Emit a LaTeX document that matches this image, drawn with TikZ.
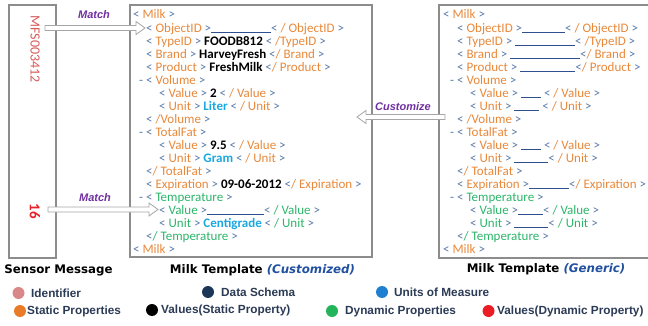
\documentclass[tikz,border=0pt]{standalone}
\usepackage{fontspec}
\setmainfont{Carlito}
\newfontfamily\dvs{DejaVu Sans}
\newfontfamily\lbs{Liberation Sans}
\usetikzlibrary{calc}
\definecolor{brk}{HTML}{5878A8}
\definecolor{tagor}{HTML}{E8883A}
\definecolor{tagg}{HTML}{2DB56A}
\definecolor{unitb}{HTML}{1AA8E0}
\definecolor{schema}{HTML}{2F4F8F}
\definecolor{idc}{HTML}{D65C5C}
\definecolor{redv}{HTML}{E8202A}
\definecolor{purp}{HTML}{7030A0}
\definecolor{cust}{HTML}{2150A0}
\definecolor{legt}{HTML}{2B3A55}
\definecolor{boxg}{HTML}{8C8C8C}
\definecolor{lpink}{HTML}{D98787}
\definecolor{lorange}{HTML}{E87A2A}
\definecolor{lnavy}{HTML}{1C3659}
\definecolor{lblue}{HTML}{2080D0}
\definecolor{lgreen}{HTML}{22B35B}
\definecolor{lred}{HTML}{EC1C24}
\newcommand\Lb{\textcolor{brk}{<}}
\newcommand\Rb{\textcolor{brk}{>}}
\newcommand\TO[1]{\textcolor{tagor}{#1}}
\newcommand\TG[1]{\textcolor{tagg}{#1}}
\newcommand\UB[1]{\textcolor{unitb}{\bfseries #1}}
\newcommand\VB[1]{\textbf{#1}}
\newcommand\BL[1]{\textcolor{schema}{\rule[-0.5pt]{#1pt}{0.9pt}}}
\newcommand\DS{\textcolor{brk}{-}}
\newcommand\harrowR[2]{\draw[hollow] ($(#1)+(0,-2.5)$) -- ($(#2)+(-9,-2.5)$) -- ($(#2)+(-9,-6.5)$) -- (#2) -- ($(#2)+(-9,6.5)$) -- ($(#2)+(-9,2.5)$) -- ($(#1)+(0,2.5)$) -- cycle;}
\newcommand\harrowL[2]{\draw[hollow] ($(#1)+(0,-2.5)$) -- ($(#2)+(9,-2.5)$) -- ($(#2)+(9,-6.5)$) -- (#2) -- ($(#2)+(9,6.5)$) -- ($(#2)+(9,2.5)$) -- ($(#1)+(0,2.5)$) -- cycle;}
\tikzset{
 xl/.style={anchor=base west, inner sep=0pt, font=\fontsize{13}{13}\selectfont},
 frame/.style={draw=boxg, line width=1.1pt},
 hollow/.style={draw=gray!70, fill=white, line width=0.8pt, line join=miter},
 lab/.style={font=\lbs\bfseries\itshape\fontsize{11}{11}\selectfont, text=purp, inner sep=0pt},
 ttl/.style={font=\dvs\bfseries\fontsize{11.8}{12}\selectfont, inner sep=0pt},
 leg/.style={anchor=west, inner sep=0pt, font=\lbs\bfseries\fontsize{11.8}{12}\selectfont, text=legt},
 dot/.style={circle, inner sep=0pt, minimum size=12pt}
}
\begin{document}
\begin{tikzpicture}[x=1pt, y=-1pt]
\useasboundingbox (0,0) rectangle (648,326);
% boxes
\draw[frame] (9,5) rectangle (56,258);
\draw[frame] (130,5) rectangle (372,257);
\draw[frame] (439,5) rectangle (652,258);
% sensor message
\node[rotate=-90, inner sep=0pt, text=idc, font=\fontsize{14}{14}\selectfont] (sid) at (35,49) {MFS003412};
\node[rotate=-90, inner sep=0pt, text=redv, font=\bfseries\fontsize{15}{15}\selectfont] (sval) at (35,211) {16};
% arrows
\coordinate (a1s) at (45,28);
\coordinate (a1e) at (145,28);
\coordinate (a2s) at (48,209.5);
\coordinate (a2e) at (158,209.5);
\coordinate (a3s) at (445,117);
\coordinate (a3e) at (357,117);
\harrowR{a1s}{a1e}
\harrowR{a2s}{a2e}
\harrowL{a3s}{a3e}
\node[lab] (m1) at (94,15) {Match};
\node[lab] (m2) at (95,198) {Match};
\node[lab] (cz) at (403,107) {Customize};
% customized template
\node[xl] (c1) at (133,19) {\Lb{} \TO{Milk} \Rb{}};
\node[xl] (c2) at (146,32.05) {\Lb{} \TO{ObjectID} \Rb{}\BL{60}\Lb{} \TO{/ ObjectID} \Rb{}};
\node[xl] (c3) at (146,45.1) {\Lb{} \TO{TypeID} \Rb{} \VB{FOODB812} \Lb{} \TO{/TypeID} \Rb{}};
\node[xl] (c4) at (146,58.15) {\Lb{} \TO{Brand} \Rb{} \VB{HarveyFresh} \Lb{}\TO{/ Brand} \Rb{}};
\node[xl] (c5) at (146,71.2) {\Lb{} \TO{Product} \Rb{} \VB{FreshMilk} \Lb{}\TO{/ Product} \Rb{}};
\node[xl] (c6) at (139,84.25) {\DS{} \Lb{} \TO{Volume} \Rb{}};
\node[xl] (c7) at (159,97.3) {\Lb{} \TO{Value} \Rb{} \VB{2} \Lb{} \TO{/ Value} \Rb{}};
\node[xl] (c8) at (159,110.35) {\Lb{} \TO{Unit} \Rb{} \UB{Liter} \Lb{} \TO{/ Unit} \Rb{}};
\node[xl] (c9) at (146,123.4) {\Lb{} \TO{/Volume} \Rb{}};
\node[xl] (c10) at (139,136.45) {\DS{} \Lb{} \TO{TotalFat} \Rb{}};
\node[xl] (c11) at (159,149.5) {\Lb{} \TO{Value} \Rb{} \VB{9.5} \Lb{} \TO{/ Value} \Rb{}};
\node[xl] (c12) at (159,162.55) {\Lb{} \TO{Unit} \Rb{} \UB{Gram} \Lb{} \TO{/ Unit} \Rb{}};
\node[xl] (c13) at (146,175.6) {\Lb{}\TO{/ TotalFat} \Rb{}};
\node[xl] (c14) at (146,188.65) {\Lb{} \TO{Expiration} \Rb{} \VB{09-06-2012} \Lb{}\TO{/ Expiration} \Rb{}};
\node[xl] (c15) at (139,201.7) {\DS{} \Lb{} \TG{Temperature} \Rb{}};
\node[xl] (c16) at (159,214.75) {\Lb{} \TG{Value} \Rb{}\BL{57}\Lb{} \TG{/ Value} \Rb{}};
\node[xl] (c17) at (159,227.8) {\Lb{} \TG{Unit} \Rb{} \UB{Centigrade} \Lb{} \TG{/ Unit} \Rb{}};
\node[xl] (c18) at (146,240.85) {\Lb{}\TG{/ Temperature} \Rb{}};
\node[xl] (c19) at (133,253.9) {\Lb{} \TO{Milk} \Rb{}};
% generic template
\node[xl] (g1) at (443,19) {\Lb{} \TO{Milk} \Rb{}};
\node[xl] (g2) at (457,32.05) {\Lb{} \TO{ObjectID} \Rb{}\BL{43}\Lb{} \TO{/ ObjectID} \Rb{}};
\node[xl] (g3) at (457,45.1) {\Lb{} \TO{TypeID} \Rb{} \BL{60}\Lb{} \TO{/TypeID} \Rb{}};
\node[xl] (g4) at (457,58.15) {\Lb{} \TO{Brand} \Rb{} \BL{70}\Lb{}\TO{/ Brand} \Rb{}};
\node[xl] (g5) at (457,71.2) {\Lb{} \TO{Product} \Rb{} \BL{55}\Lb{}\TO{/ Product} \Rb{}};
\node[xl] (g6) at (450,84.25) {\DS{} \Lb{} \TO{Volume} \Rb{}};
\node[xl] (g7) at (470,97.3) {\Lb{} \TO{Value} \Rb{} \BL{20} \Lb{} \TO{/ Value} \Rb{}};
\node[xl] (g8) at (470,110.35) {\Lb{} \TO{Unit} \Rb{} \BL{25} \Lb{} \TO{/ Unit} \Rb{}};
\node[xl] (g9) at (457,123.4) {\Lb{} \TO{/Volume} \Rb{}};
\node[xl] (g10) at (450,136.45) {\DS{} \Lb{} \TO{TotalFat} \Rb{}};
\node[xl] (g11) at (470,149.5) {\Lb{} \TO{Value} \Rb{} \BL{20} \Lb{} \TO{/ Value} \Rb{}};
\node[xl] (g12) at (470,162.55) {\Lb{} \TO{Unit} \Rb{} \BL{34}\Lb{} \TO{/ Unit} \Rb{}};
\node[xl] (g13) at (457,175.6) {\Lb{}\TO{/ TotalFat} \Rb{}};
\node[xl] (g14) at (457,188.65) {\Lb{} \TO{Expiration} \Rb{}\BL{40}\Lb{}\TO{/ Expiration} \Rb{}};
\node[xl] (g15) at (450,201.7) {\DS{} \Lb{} \TG{Temperature} \Rb{}};
\node[xl] (g16) at (470,214.75) {\Lb{} \TG{Value} \Rb{}\BL{25}\Lb{} \TG{/ Value} \Rb{}};
\node[xl] (g17) at (470,227.8) {\Lb{} \TG{Unit} \Rb{} \BL{34}\Lb{} \TG{/ Unit} \Rb{}};
\node[xl] (g18) at (457,240.85) {\Lb{}\TG{/ Temperature} \Rb{}};
\node[xl] (g19) at (443,253.9) {\Lb{} \TO{Milk} \Rb{}};
% titles
\node[ttl] (t1) at (58.5,270) {Sensor Message};
\node[ttl] (t2) at (262.5,270) {Milk Template \textcolor{cust}{\itshape (Customized)}};
\node[ttl] (t3) at (546,269) {Milk Template \textcolor{cust}{\itshape (Generic)}};
% legend
\node[dot, fill=lpink] (d1) at (18.5,293) {};
\node[leg] (l1) at (31,293) {Identifier};
\node[dot, fill=lnavy] (d2) at (208,292) {};
\node[leg] (l2) at (221,292) {Data Schema};
\node[dot, fill=lblue] (d3) at (382,292) {};
\node[leg] (l3) at (394,292) {Units of Measure};
\node[dot, fill=lorange] (d4) at (20,311) {};
\node[leg] (l4) at (27,311) {Static Properties};
\node[dot, fill=black] (d5) at (152,310) {};
\node[leg] (l5) at (161,310) {Values(Static Property)};
\node[dot, fill=lgreen] (d6) at (332,311) {};
\node[leg] (l6) at (345,311) {Dynamic Properties};
\node[dot, fill=lred] (d7) at (488.5,311) {};
\node[leg] (l7) at (497,311) {Values(Dynamic Property)};
\end{tikzpicture}
\end{document}
